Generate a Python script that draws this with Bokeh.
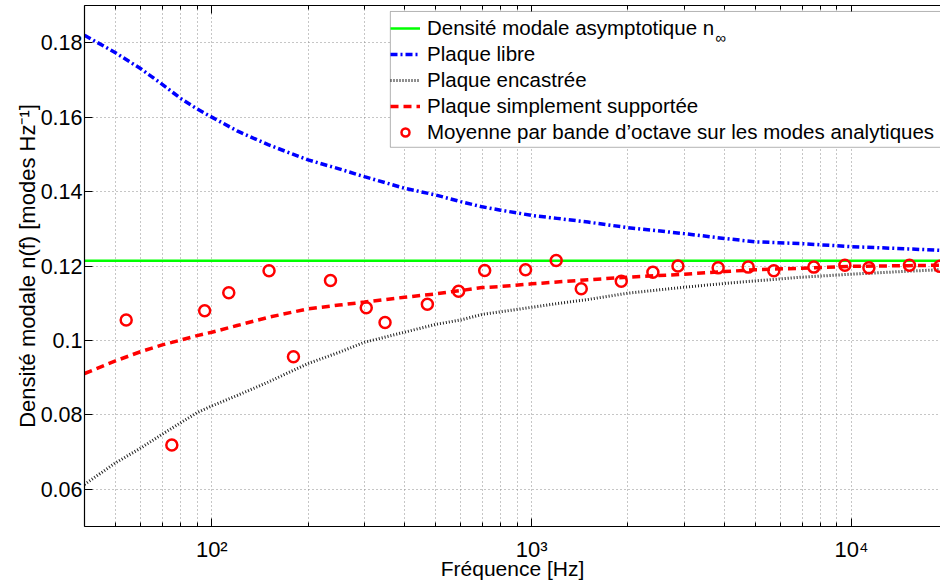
from bokeh.plotting import figure
from bokeh.models import Range1d, LogAxis, FixedTicker, Legend, LegendItem, Label, BoxAnnotation
from bokeh.embed import file_html
from bokeh.resources import INLINE

FONT = "Liberation Sans"

# ---- data ----
freq_curve = [40, 50, 60, 70, 80, 90, 100, 120, 150, 200, 250, 300, 400, 500, 600,
              700, 800, 1000, 1200, 1500, 2000, 3000, 4000, 5000, 7000, 10000, 15000, 19000]
plaque_libre = [0.1820, 0.1773, 0.1730, 0.1688, 0.1650, 0.1622, 0.1600, 0.1563, 0.1526,
                0.1485, 0.1461, 0.1440, 0.1409, 0.1391, 0.1373, 0.1359, 0.1350, 0.1336,
                0.1328, 0.1318, 0.1303, 0.1287, 0.1274, 0.1265, 0.1260, 0.1252, 0.1246, 0.1242]
plaque_encastree = [0.0613, 0.0671, 0.0711, 0.0748, 0.0779, 0.0806, 0.0824, 0.0852, 0.0888,
                    0.0938, 0.0968, 0.0995, 0.1022, 0.1043, 0.1055, 0.1070, 0.1077, 0.1089,
                    0.1099, 0.1110, 0.1127, 0.1143, 0.1153, 0.1160, 0.1170, 0.1178, 0.1186, 0.1190]
plaque_ss = [0.0911, 0.0945, 0.0970, 0.0988, 0.1001, 0.1013, 0.1022, 0.1040, 0.1062,
             0.1085, 0.1095, 0.1103, 0.1116, 0.1125, 0.1134, 0.1142, 0.1145, 0.1152,
             0.1157, 0.1163, 0.1170, 0.1178, 0.1185, 0.1190, 0.1194, 0.1199, 0.1201, 0.1202]
n_inf = 0.1214

freq_bands = [54, 75, 95, 113, 151, 180, 235, 304, 348, 472, 591, 713, 957, 1193,
              1429, 1906, 2393, 2866, 3828, 4753, 5715, 7622, 9530, 11330, 15170, 18880]
moyenne_octave = [0.1055, 0.0719, 0.1080, 0.1128, 0.1187, 0.0956, 0.1161, 0.1088,
                  0.1048, 0.1097, 0.1132, 0.1188, 0.1190, 0.1215, 0.1139, 0.1159,
                  0.1183, 0.1200, 0.1195, 0.1197, 0.1187, 0.1197, 0.1202, 0.1195,
                  0.1202, 0.1199]

x_major = [100, 1000, 10000]
x_major_labels = ["10²", "10³", "10⁴"]
y_major = [0.06, 0.08, 0.1, 0.12, 0.14, 0.16, 0.18]
y_major_labels = ["0.06", "0.08", "0.1", "0.12", "0.14", "0.16", "0.18"]

x_minor = [m * d for d in (10, 100, 1000, 10000) for m in range(2, 10) if 40 <= m * d <= 20000]

p = figure(width=940, height=583, x_axis_type="log",
           x_range=Range1d(40, 18970), y_range=Range1d(0.05, 0.19),
           output_backend="svg", toolbar_location=None,
           min_border_left=84, min_border_right=0, min_border_top=5, min_border_bottom=57,
           x_axis_label="Fréquence [Hz]", y_axis_label="Densité modale n(f) [modes Hz⁻¹]")
p.outline_line_color = None
p.background_fill_color = "white"
p.border_fill_color = "white"

xticker = FixedTicker(ticks=x_major, minor_ticks=x_minor)
yticker = FixedTicker(ticks=y_major)
p.xaxis.ticker = xticker
p.yaxis.ticker = yticker
p.xgrid.ticker = xticker
p.ygrid.ticker = yticker
p.xaxis.major_label_overrides = dict(zip(x_major, x_major_labels))
p.yaxis.major_label_overrides = dict(zip(y_major, y_major_labels))

for g in (p.xgrid[0], p.ygrid[0]):
    g.grid_line_color = "#8c8c8c"
    g.grid_line_dash = "1 3"
    g.grid_line_width = 1
p.xgrid.minor_grid_line_color = "#8c8c8c"
p.xgrid.minor_grid_line_dash = "1 3"

for ax in (p.xaxis[0], p.yaxis[0]):
    ax.axis_line_color = "black"
    ax.axis_line_width = 1.2
    ax.major_tick_in = 8
    ax.major_tick_out = 0
    ax.minor_tick_in = 4
    ax.minor_tick_out = 0
    ax.major_tick_line_color = "black"
    ax.minor_tick_line_color = "black"
    ax.major_label_text_font = FONT
    ax.major_label_text_color = "black"
    ax.axis_label_text_font = FONT
    ax.axis_label_text_font_style = "normal"
    ax.axis_label_text_color = "black"
p.xaxis.major_label_text_font_size = "22px"
p.yaxis.major_label_text_font_size = "21.5px"
p.xaxis.axis_label_text_font_size = "21px"
p.yaxis.axis_label_text_font_size = "22px"
p.yaxis.major_label_standoff = 2
p.yaxis.axis_label_standoff = -2
p.xaxis.major_label_standoff = 10
p.xaxis.axis_label_standoff = -8

top = LogAxis(ticker=xticker, major_label_text_font_size="1px", major_label_text_color=None,
              major_label_standoff=0,
              major_tick_in=8, major_tick_out=0, minor_tick_in=4, minor_tick_out=0,
              axis_line_color="black", axis_line_width=1.2)
p.add_layout(top, "above")

r_inf = p.line([freq_curve[0], freq_curve[-1]], [n_inf, n_inf], line_color="#00ff00", line_width=2.5)
r_libre = p.line(freq_curve, plaque_libre, line_color="#0000ff", line_width=3.5, line_dash="7 3 2 3")
r_enc = p.line(freq_curve, plaque_encastree, line_color="#222222", line_width=3, line_dash="1 2")
r_ss = p.line(freq_curve, plaque_ss, line_color="#ff0000", line_width=3.5, line_dash="8 5")
r_moy = p.scatter(freq_bands, moyenne_octave, marker="circle", size=11, fill_color=None,
                  line_color="#ff0000", line_width=2.5)

# white legend panel (drawn separately so the subscript can sit on top of it)
legend_box = BoxAnnotation(left=361.6, bottom=0.1519, top=0.1884,
                           fill_color="white", fill_alpha=1,
                           line_color="black", line_width=1)
p.add_layout(legend_box)

# subscript "infinity" of the first legend entry (placed just after "n")
inf_label = Label(x=3750, y=0.1814, text="∞",
                  text_font=FONT, text_font_size="15px", text_baseline="middle",
                  text_color="black")
p.add_layout(inf_label)

legend = Legend(items=[
    LegendItem(label="Densité modale asymptotique n", renderers=[r_inf]),
    LegendItem(label="Plaque libre", renderers=[r_libre]),
    LegendItem(label="Plaque encastrée", renderers=[r_enc]),
    LegendItem(label="Plaque simplement supportée", renderers=[r_ss]),
    LegendItem(label="Moyenne par bande d’octave sur les modes analytiques", renderers=[r_moy]),
], location=(306, 382))
legend.label_text_font = FONT
legend.label_text_font_size = "20.5px"
legend.label_text_color = "black"
legend.border_line_color = None
legend.background_fill_alpha = 0
legend.padding = 3
legend.spacing = 2
legend.margin = 0
legend.label_height = 24
legend.label_width = 560
legend.glyph_height = 20
legend.glyph_width = 30
legend.label_standoff = 7
p.add_layout(legend)

open("out.html", "w").write(file_html(p, INLINE))
